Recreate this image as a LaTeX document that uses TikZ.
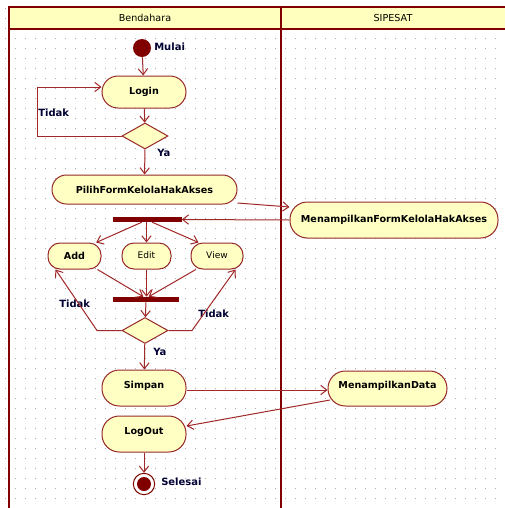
\documentclass[tikz,border=0pt]{standalone}
\usepackage{fontspec}
\setmainfont{DejaVu Sans}
\usetikzlibrary{shapes.geometric,arrows.meta}
\definecolor{lane}{RGB}{128,0,0}
\definecolor{nodeborder}{RGB}{150,40,40}
\definecolor{conn}{RGB}{160,40,40}
\definecolor{nodefill}{RGB}{255,255,196}
\definecolor{headfill}{RGB}{255,255,190}
\definecolor{dotc}{RGB}{170,170,170}
\tikzset{
  act/.style={draw=nodeborder, fill=nodefill, line width=0.75pt, inner sep=0pt, font=\fontsize{7.2}{8}\selectfont\bfseries},
  dec/.style={draw=nodeborder, fill=nodefill, line width=0.75pt, diamond, inner sep=0pt, minimum width=34.5pt, minimum height=19.5pt},
  bar/.style={fill=lane, draw=none, inner sep=0pt, minimum width=51.75pt, minimum height=3.75pt},
  flow/.style={draw=conn, line width=0.75pt, -{Straight Barb[length=4.5pt,width=7pt]}},
  lbl/.style={font=\fontsize{7.5}{8}\selectfont\bfseries, text=black!80!blue, inner sep=0pt},
}
\begin{document}
\begin{tikzpicture}[x=0.75pt,y=-0.75pt]
\useasboundingbox (0,0) rectangle (505,508);
\fill[white] (0,0) rectangle (505,508);
% grid dots
\foreach \i in {0,...,50}{
  \foreach \j in {0,...,50}{
    \fill[dotc] (5+10*\i,8+10*\j) rectangle ++(1,1);
  }
}
% swimlanes
\fill[headfill] (9,7) rectangle (510,29);
\fill[white] (9,29) rectangle (510,510);
\foreach \i in {0,...,49}{
  \foreach \j in {0,...,47}{
    \fill[dotc] (15+10*\i,38+10*\j) rectangle ++(1,1);
  }
}
\draw[lane, line width=1.5pt] (510,7) -- (9,7) -- (9,510);
\draw[lane, line width=1.5pt] (9,29) -- (510,29);
\draw[lane, line width=1.8pt] (281,7) -- (281,510);
\node[lbl, font=\fontsize{7.2}{8}\selectfont, text=black] (hb) at (145,18) {Bendahara};
\node[lbl, font=\fontsize{7.2}{8}\selectfont, text=black] (hs) at (393,18) {SIPESAT};

% nodes
\node[circle, fill=lane, inner sep=0pt, minimum size=13.5pt] (start) at (142,48) {};
\node[lbl, anchor=west] (startl) at (154,47) {Mulai};
\node[act, minimum width=63pt, minimum height=24pt, rounded corners=12pt] (login) at (144,92) {Login};
\node[dec] (d1) at (145,136) {};
\node[act, minimum width=138.75pt, minimum height=21.75pt, rounded corners=10.8pt] (pilih) at (144.5,189.5) {PilihFormKelolaHakAkses};
\node[act, minimum width=156pt, minimum height=27pt, rounded corners=13pt] (mform) at (394,220) {\raisebox{1pt}{MenampilkanFormKelolaHakAkses}};
\node[bar] (b1) at (147,219.5) {};
\node[act, minimum width=39.75pt, minimum height=19.5pt, rounded corners=9pt] (add) at (74.5,256) {Add};
\node[act, minimum width=36.75pt, minimum height=19.5pt, rounded corners=9pt, font=\fontsize{6.8}{8}\selectfont] (edit) at (146.5,256) {\raisebox{2pt}{Edit}};
\node[act, minimum width=39pt, minimum height=19.5pt, rounded corners=9pt, font=\fontsize{6.8}{8}\selectfont] (view) at (217,256) {\raisebox{2pt}{View}};
\node[bar, minimum width=49.5pt] (b2) at (146,299.5) {};
\node[dec] (d2) at (145,330.5) {};
\node[act, minimum width=63pt, minimum height=27pt, rounded corners=13pt] (simpan) at (144,388) {\raisebox{5pt}{Simpan}};
\node[act, minimum width=89.25pt, minimum height=26.25pt, rounded corners=13pt] (mdata) at (387.5,388.5) {\raisebox{5pt}{MenampilkanData}};
\node[act, minimum width=63pt, minimum height=27pt, rounded corners=13pt] (logout) at (144,434) {\raisebox{5pt}{LogOut}};
\node[circle, draw=lane, line width=0.75pt, fill=white, inner sep=0pt, minimum size=16pt] (endo) at (144,484) {};
\node[circle, fill=lane, inner sep=0pt, minimum size=10.5pt] (endi) at (144,484) {};
\node[lbl, anchor=west] (endl) at (161,482) {Selesai};

% labels
\node[lbl, anchor=west] (t1) at (38,113) {Tidak};
\node[lbl, anchor=west] (y1) at (157,153) {Ya};
\node[lbl, anchor=west] (t2) at (59,304) {Tidak};
\node[lbl, anchor=west] (t3) at (198,314) {Tidak};
\node[lbl, anchor=west] (y2) at (153,352) {Ya};

% connectors
\coordinate (c1a) at (37,136);
\coordinate (c1b) at (37,87);
\coordinate (c2a) at (97,330.5);
\coordinate (c3a) at (192,330.5);
\draw[flow] (start) -- (login);
\draw[flow] (login) -- (d1);
\draw[flow] (d1.west) -- (c1a) -- (c1b) -- (login.west |- c1b);
\draw[flow] (d1) -- (pilih);
\draw[flow] (pilih.east |- 0,203) -- (mform.west |- 0,207);
\draw[flow] (mform.west) -- (b1.east);
\draw[flow] ([xshift=-4pt]b1.south) -- ([xshift=-4pt]add.north east);
\draw[flow] (b1.south -| edit.north) -- (edit.north);
\draw[flow] ([xshift=4pt]b1.south) -- ([xshift=6pt]view.north west);
\draw[flow] ([xshift=-3pt]add.south east) -- ([xshift=-2pt]b2.north);
\draw[flow] (edit.south) -- (edit.south |- b2.north);
\draw[flow] ([xshift=4pt]view.south west) -- ([xshift=2pt]b2.north);
\draw[flow] (b2) -- (d2);
\draw[flow] (d2.west) -- (c2a) -- ([xshift=6pt]add.south west);
\draw[flow] (d2.east) -- (c3a) -- ([xshift=-6pt]view.south east);
\draw[flow] (d2) -- (simpan);
\draw[flow] (simpan.east |- 0,390) -- (mdata.west |- 0,390);
\draw[flow] (330,400) -- (logout.east |- 0,426);
\draw[flow] (logout) -- (endo);
\end{tikzpicture}
\end{document}
